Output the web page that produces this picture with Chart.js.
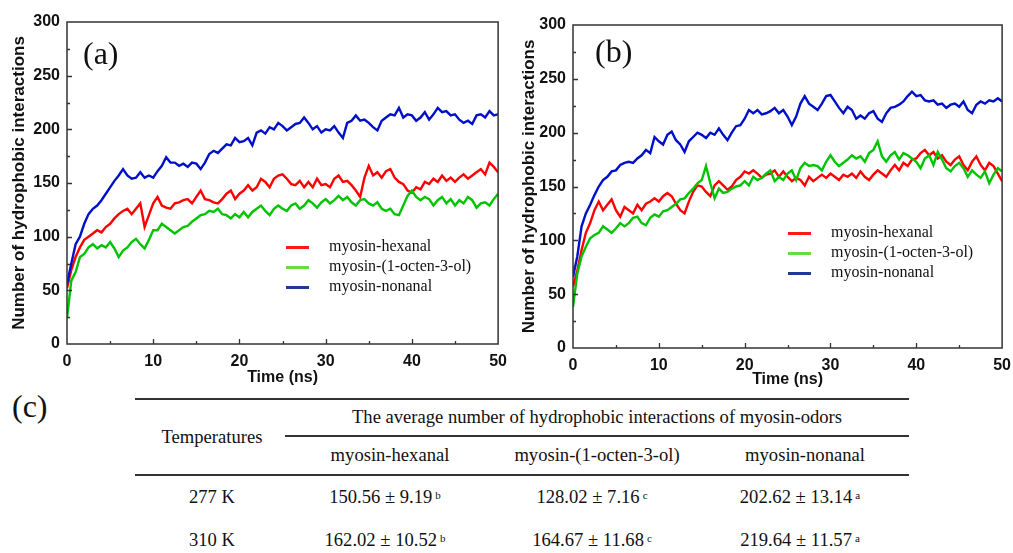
<!DOCTYPE html>
<html>
<head>
<meta charset="utf-8">
<script src="https://cdn.jsdelivr.net/npm/chart.js@4"></script>
<style>
  body { margin: 0; background: #fff; }
  #page { position: relative; width: 1013px; height: 553px; overflow: hidden; font-family: "Liberation Serif", "Times New Roman", serif; color: #111; }
  canvas { position: absolute; top: 0; }
  .panel { position: absolute; font-size: 32px; line-height: 1; }
  .leg { position: absolute; font-size: 16px; line-height: 20px; white-space: nowrap; }
  .leg i { display: inline-block; width: 23px; height: 3px; vertical-align: middle; margin-right: 20px; }
  .t { position: absolute; transform: translate(-50%, -50%); font-size: 18.6px; white-space: nowrap; }
  .t sup { font-size: 11px; vertical-align: 4px; margin-left: 3px; }
  .rule { position: absolute; height: 1.5px; background: #333; }
</style>
</head>
<body>
<div id="page">
  <canvas id="chartA" width="515" height="388" style="left:0"></canvas>
  <canvas id="chartB" width="514" height="390" style="left:505px"></canvas>

  <div class="panel" style="left:83px; top:37px">(a)</div>
  <div class="panel" style="left:595px; top:35px">(b)</div>

  <div class="leg" style="left:286px; top:236px">
    <div><i style="background:#ff1a1a"></i>myosin-hexanal</div>
    <div><i style="background:#66dd44"></i>myosin-(1-octen-3-ol)</div>
    <div><i style="background:#1f3a8f"></i>myosin-nonanal</div>
  </div>
  <div class="leg" style="left:788px; top:222px">
    <div><i style="background:#ff1a1a"></i>myosin-hexanal</div>
    <div><i style="background:#66dd44"></i>myosin-(1-octen-3-ol)</div>
    <div><i style="background:#1f3a8f"></i>myosin-nonanal</div>
  </div>

  <!-- (c) table -->
  <div class="panel" style="left:12px; top:390px">(c)</div>
  <div class="rule" style="left:135px; width:774px; top:398px"></div>
  <div class="rule" style="left:285px; width:624px; top:435px"></div>
  <div class="rule" style="left:135px; width:774px; top:474px"></div>
  <div id="tbl"></div>
</div>

<script>
// time axis, 0.5 ns steps
const times = Array.from({length: 101}, (_, i) => i * 0.5);

// (a) 277 K
const hexA = [52,69,81,90,97,100,103,106,104,109,
  112,117,121,124,126,121,126,131,109,120,
  131,137,129,127,126,131,132,134,135,131,
  137,143,135,134,132,131,135,140,143,135,
  140,143,148,143,146,154,151,146,154,157,
  158,154,149,148,152,146,151,146,154,148,
  149,146,154,157,151,152,148,143,137,155,
  166,157,160,155,161,163,155,151,149,143,
  141,146,144,151,149,154,151,157,152,155,
  151,155,158,154,157,160,163,158,169,165,
  160];
const octA = [24,59,67,81,84,90,93,89,92,90,
  95,89,81,87,90,95,98,93,89,97,
  106,106,112,109,106,103,106,109,110,114,
  117,120,121,124,123,126,121,120,117,121,
  118,123,118,123,126,129,124,120,126,129,
  126,124,129,131,126,129,134,131,127,132,
  135,131,134,138,134,137,132,129,134,135,
  131,129,132,126,124,126,121,120,129,138,
  143,137,134,137,135,129,134,137,131,135,
  129,134,131,137,134,127,131,132,129,135,
  140];
const nonA = [56,75,93,100,112,121,126,129,134,140,
  146,152,157,163,157,154,155,160,155,157,
  155,161,166,174,169,169,166,168,165,169,
  168,163,169,177,180,178,182,186,185,192,
  188,189,192,185,197,199,196,202,200,206,
  203,199,202,205,206,211,206,200,203,197,
  200,199,203,197,192,206,208,213,208,209,
  206,202,199,208,211,214,213,220,211,214,
  213,208,211,216,209,214,220,216,217,213,
  214,209,206,208,205,213,214,211,217,213,
  214];

// (b) 310 K
const hexB = [57,72,91,107,116,128,136,128,133,138,
  128,122,131,128,125,133,128,134,136,139,
  136,141,144,141,134,128,125,136,145,151,
  150,145,141,151,155,151,147,150,156,159,
  164,162,165,162,158,161,162,165,159,164,
  159,155,158,156,151,159,155,158,161,158,
  162,159,156,161,159,162,158,164,159,156,
  161,165,162,159,165,170,165,172,169,175,
  176,181,184,179,182,176,179,173,170,175,
  178,170,165,173,178,170,165,172,169,162,
  155];
const octB = [38,69,85,94,102,105,107,113,110,107,
  111,116,113,116,121,122,116,114,121,124,
  122,127,128,131,134,138,139,144,148,153,
  156,169,153,139,148,144,145,148,150,151,
  155,151,159,156,158,162,165,155,159,156,
  162,165,156,167,172,169,170,169,165,173,
  179,173,169,172,175,179,176,178,173,181,
  184,192,178,173,179,182,175,181,179,176,
  173,167,176,179,170,182,175,167,164,169,
  172,167,159,165,161,158,164,153,161,167,
  164];
const nonB = [66,85,113,125,133,142,150,156,159,164,
  165,170,172,173,172,176,179,184,181,196,
  192,189,198,201,193,189,182,192,196,200,
  198,195,200,198,204,198,193,200,206,207,
  213,221,218,221,217,218,220,223,218,221,
  215,207,215,227,234,227,224,221,227,234,
  235,229,223,218,224,221,213,216,213,218,
  220,213,210,218,223,224,226,229,234,238,
  234,235,230,229,230,226,227,223,226,227,
  224,229,221,218,226,229,227,230,229,232,
  229];

const seriesNames = ['myosin-hexanal', 'myosin-(1-octen-3-ol)', 'myosin-nonanal'];
const lineColors = ['#ff0000', '#00c400', '#0010c8'];

// table (c)
const temps = ['277 K', '310 K'];
const means = [['150.56 ± 9.19', '128.02 ± 7.16', '202.62 ± 13.14'],
               ['162.02 ± 10.52', '164.67 ± 11.68', '219.64 ± 11.57']];
const letters = ['b', 'c', 'a'];

// frame + inward ticks, like the origin-style plots
const frame = {
  id: 'frame',
  afterDraw(chart) {
    const {ctx, chartArea: a, scales: {x, y}} = chart;
    ctx.save();
    ctx.strokeStyle = '#333';
    ctx.lineWidth = 1.5;
    ctx.strokeRect(a.left, a.top, a.right - a.left, a.bottom - a.top);
    ctx.lineWidth = 1.3;
    ctx.beginPath();
    for (let v = 5; v < 50; v += 5) {
      const px = Math.round(x.getPixelForValue(v)) + 0.5;
      ctx.moveTo(px, a.bottom);
      ctx.lineTo(px, a.bottom - (v % 10 ? 3 : 5));
    }
    for (let v = 25; v < 300; v += 25) {
      const py = Math.round(y.getPixelForValue(v)) + 0.5;
      ctx.moveTo(a.left, py);
      ctx.lineTo(a.left + (v % 50 ? 3 : 5), py);
    }
    ctx.stroke();
    ctx.restore();
  }
};

const axisFont = {family: '"Liberation Sans", Arial, sans-serif', weight: 'bold'};

function makeChart(id, vals, box) {
  return new Chart(document.getElementById(id), {
    type: 'line',
    data: {
      labels: times,
      datasets: vals.map((v, i) => ({
        label: seriesNames[i],
        data: v.map((y, j) => ({x: times[j], y})),
        borderColor: lineColors[i],
        borderWidth: 2.4,
        pointRadius: 0,
        tension: 0
      })).reverse()
    },
    options: {
      responsive: false,
      animation: false,
      layout: {padding: {top: box.top, right: 0, left: 0, bottom: 0}},
      plugins: {legend: {display: false}, tooltip: {enabled: false}},
      scales: {
        x: {
          type: 'linear', min: 0, max: 50,
          grid: {display: false, drawTicks: false},
          border: {display: false},
          ticks: {stepSize: 10, padding: 8, color: '#111', font: {...axisFont, size: 16}},
          title: {display: true, text: 'Time (ns)', color: '#111', padding: {top: 0, bottom: 1}, font: {...axisFont, size: 16}},
          afterFit: s => { s.height = box.xh; }
        },
        y: {
          min: 0, max: 300,
          grid: {display: false, drawTicks: false},
          border: {display: false},
          ticks: {stepSize: 50, padding: 7, color: '#111', font: {...axisFont, size: 16}},
          title: {display: true, text: 'Number of hydrophobic interactions', color: '#111', padding: {top: box.tp, bottom: 0}, font: {...axisFont, size: 17}},
          afterFit: s => { s.width = box.yw; }
        }
      }
    },
    plugins: [frame]
  });
}

makeChart('chartA', [hexA, octA, nonA], {top: 22, xh: 44, yw: 67, tp: 9});
makeChart('chartB', [hexB, octB, nonB], {top: 25, xh: 42, yw: 68, tp: 14});

// table text
const tbl = document.getElementById('tbl');
function cell(x, y, html) {
  const d = document.createElement('div');
  d.className = 't';
  d.style.left = x + 'px';
  d.style.top = y + 'px';
  d.innerHTML = html;
  tbl.appendChild(d);
}
const colX = [390, 597, 805];
cell(597, 417, 'The average number of hydrophobic interactions of myosin-odors');
cell(212, 437, 'Temperatures');
seriesNames.forEach((n, i) => cell(colX[i], 455, n));
temps.forEach((t, r) => {
  const y = r ? 540 : 497;
  cell(212, y, t);
  means[r].forEach((m, i) => cell(colX[i] - 5, y, m + '<sup>' + letters[i] + '</sup>'));
});
</script>
</body>
</html>
